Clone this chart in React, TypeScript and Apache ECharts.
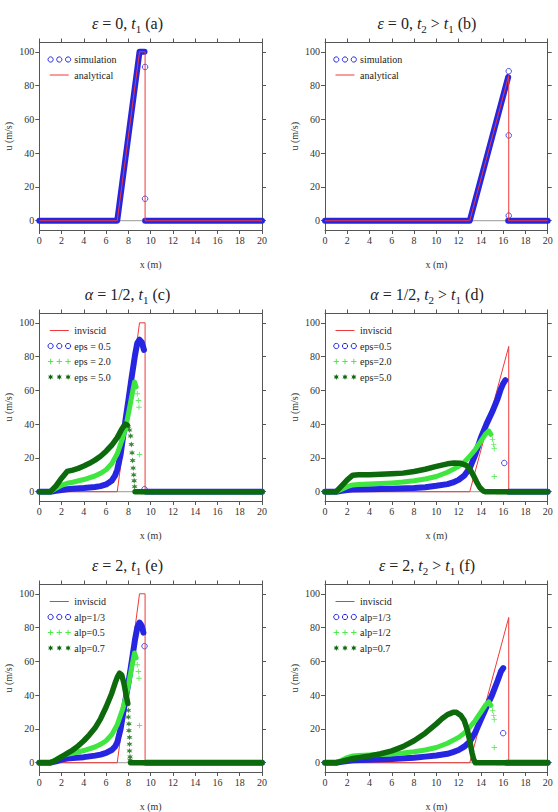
import { useEffect, useRef } from "react";
import * as echarts from "echarts";

type Pt = [number, number | null];

// ---- axes ----
const xTickStep = 2;
const yTickValues = [0, 20, 40, 60, 80, 100];

// ---- exact (inviscid) solutions ----
const exactT1: Pt[] = [[0, 0], [7, 0], [9, 100], [9.5, 100], [9.5, 0], [20, 0]];
const exactT2: Pt[] = [[0, 0], [13, 0], [16.5, 86], [16.5, 0], [20, 0]];
const zeroLine: Pt[] = [[0, 0], [20, 0]];

// ---- ε = 0 simulation ----
const simT1Band: Pt[] = [[0, 0], [7.0, 0], [9.0, 100], [9.45, 100], [9.47, null], [9.5, 0], [20, 0]];
const simT1Marks: Pt[] = [[9.5, 91], [9.5, 13]];
const simT2Band: Pt[] = [[0, 0], [13.0, 0], [16.45, 85], [16.47, null], [16.45, 0], [20, 0]];
const simT2Marks: Pt[] = [[16.5, 88.5], [16.5, 50.5], [16.5, 3]];

// ---- α = 1/2, eps = 0.5 ----
const eps05T1Band: Pt[] = [[0, 0], [1, 0], [1.5, 0.5], [2, 1], [2.5, 1.5], [3, 1.8], [4, 2.2], [5, 2.8], [5.5, 3.3], [6, 4.3], [6.5, 6.5], [6.8, 9.5], [7, 13], [7.3, 22], [7.6, 36], [8, 54], [8.3, 68], [8.6, 81], [8.8, 88], [9.0, 90], [9.2, 88.5], [9.4, 84], [9.42, null], [9.6, 0], [20, 0]];
const eps05T1Marks: Pt[] = [[9.45, 1.5]];
const eps05T2Band: Pt[] = [[0, 0], [1, 0], [1.5, 0.5], [2, 1], [2.5, 1.3], [4, 1.5], [6, 1.8], [8, 2.2], [9, 2.7], [10, 3.5], [11, 4.5], [11.5, 5.5], [12, 7], [12.5, 9.5], [13, 14], [13.5, 22], [14, 32], [14.5, 40], [15, 47], [15.5, 55], [15.8, 61], [16.0, 64], [16.2, 66], [16.22, null], [16.5, 0], [20, 0]];
const eps05T2Marks: Pt[] = [[16.1, 17]];

// ---- eps = 2.0 with α = 1/2 (shared by panels c/e and d/f) ----
const eps2T1Band: Pt[] = [[0, 0], [1, 0], [1.5, 2], [2, 3.8], [2.5, 5], [3, 5.6], [4, 7.2], [5, 9.3], [5.5, 10.9], [6, 13], [6.5, 16.5], [7, 22.5], [7.5, 32], [7.8, 39.5], [8, 46], [8.2, 53], [8.4, 60], [8.55, 65], [8.7, 62], [8.72, null], [9.2, 0], [20, 0]];
const eps2T1Marks: Pt[] = [[8.8, 58], [8.9, 54], [8.95, 50], [9.0, 22]];
const eps2T2Band: Pt[] = [[0, 0], [1, 0], [1.5, 1.5], [2, 3], [2.5, 4], [3, 4.2], [4, 4.5], [5, 4.8], [6, 5.2], [7, 5.7], [8, 6.5], [9, 7.5], [10, 9], [11, 11.5], [12, 15], [12.5, 17.5], [13, 21], [13.5, 25], [14, 30], [14.4, 34], [14.7, 36], [14.9, 34], [14.92, null], [15.4, 0], [20, 0]];
const eps2T2Marks: Pt[] = [[15.05, 31], [15.15, 28], [15.2, 25.5], [15.2, 9]];

// ---- α = 1/2, eps = 5.0 ----
const eps5T1Band: Pt[] = [[0, 0], [1, 0], [1.5, 3.5], [2, 8], [2.5, 12], [3, 12.8], [3.5, 13.8], [4, 15.2], [4.5, 16.8], [5, 18.7], [5.5, 21], [6, 24], [6.5, 27.5], [7, 32], [7.4, 37], [7.7, 40], [7.9, 39.5], [7.92, null], [8.6, 0], [20, 0]];
const eps5T1Marks: Pt[] = [[8.0, 38.5], [8.1, 36.5], [8.2, 33], [8.27, 28], [8.33, 23], [8.38, 18.5], [8.43, 14], [8.48, 10], [8.52, 6.5], [8.56, 3]];
const eps5T2Band: Pt[] = [[0, 0], [1, 0], [1.5, 3.5], [2, 7], [2.5, 9.8], [3, 10], [4, 10.1], [5, 10.3], [6, 10.6], [7, 11], [8, 12], [9, 13.3], [10, 15], [11, 16.5], [11.6, 17], [12.2, 16.8], [12.7, 15.5], [13, 13.5], [13.3, 10], [13.6, 6], [13.9, 2.5], [14.2, 0.5], [14.4, 0], [20, 0]];

// ---- ε = 2, alp = 1/3 ----
const alp13T1Band: Pt[] = [[0, 0], [1, 0], [1.5, 0.8], [2, 1.8], [2.5, 2.5], [3, 2.8], [4, 3.3], [5, 4.2], [5.5, 4.8], [6, 5.8], [6.5, 7.5], [6.8, 9.5], [7, 12], [7.3, 20], [7.6, 32], [8, 47], [8.3, 60], [8.6, 73], [8.8, 80], [9.0, 83], [9.2, 81], [9.35, 77], [9.37, null], [9.6, 0], [20, 0]];
const alp13T1Marks: Pt[] = [[9.45, 69]];
const alp13T2Band: Pt[] = [[0, 0], [1, 0], [1.5, 0.5], [2, 1], [2.5, 1.5], [4, 1.8], [6, 2.2], [8, 3], [9, 3.6], [10, 4.3], [11, 5.3], [11.5, 6.3], [12, 7.5], [12.5, 9.5], [13, 12.5], [13.5, 18], [14, 25.5], [14.5, 33], [15, 40], [15.5, 48.5], [15.8, 54], [16.0, 56], [16.02, null], [16.3, 0], [20, 0]];
const alp13T2Marks: Pt[] = [[16.0, 17.5]];

// ---- ε = 2, alp = 0.7 ----
const alp07T1Band: Pt[] = [[0, 0], [1, 0], [1.5, 1.5], [2, 3.5], [2.5, 5.5], [3, 7.5], [3.5, 10], [4, 13], [4.5, 16.5], [5, 20.5], [5.5, 26], [6, 33], [6.5, 41], [6.8, 47], [7.0, 50.5], [7.2, 53], [7.4, 52], [7.6, 47], [7.8, 40], [7.95, 35], [7.97, null], [8.2, 0], [20, 0]];
const alp07T1Marks: Pt[] = [[8.0, 31], [8.0, 27], [8.05, 23], [8.05, 19], [8.1, 15], [8.1, 11], [8.1, 7], [8.15, 3.5], [8.15, 1.5]];
const alp07T2Band: Pt[] = [[0, 0], [1, 0], [1.5, 0.8], [2, 1.7], [2.5, 2.5], [3, 3], [4, 4], [5, 5.3], [6, 7], [7, 9.5], [8, 13], [9, 17.5], [10, 23], [10.5, 26], [11, 28.5], [11.5, 29.8], [11.8, 29.8], [12.2, 28], [12.5, 25], [12.8, 19], [13.0, 13], [13.2, 6], [13.35, 2], [13.5, 0], [20, 0]];

// ---- panel texts ----
const panelTitles = [
  "{i|ε} = 0, {i|t}{s|1} (a)",
  "{i|ε} = 0, {i|t}{s|2} > {i|t}{s|1} (b)",
  "{i|α} = 1/2, {i|t}{s|1} (c)",
  "{i|α} = 1/2, {i|t}{s|2} > {i|t}{s|1} (d)",
  "{i|ε} = 2, {i|t}{s|1} (e)",
  "{i|ε} = 2, {i|t}{s|2} > {i|t}{s|1} (f)",
];
const legendSimA = ["simulation", "analytical"];
const legendEpsC = ["inviscid", "eps = 0.5", "eps = 2.0", "eps = 5.0"];
const legendEpsD = ["inviscid", "eps=0.5", "eps=2.0", "eps=5.0"];
const legendAlpE = ["inviscid", "alp=1/3", "alp=0.5", "alp=0.7"];
const legendAlpF = ["inviscid", "alp=1/3", "alp=1/2", "alp=0.7"];
const xAxisName = "x (m)";
const yAxisName = "u (m/s)";

// ---- styling ----
const FONT = "Liberation Serif";
const BLUE = "#2626e2";
const LIGHT = "#40e640";
const DARK = "#0c6a0c";
const RED = "#ee3a3a";
const FRAME = "#555555";
const TEXT = "#333333";
const ZERO = "#999999";

const COL_LEFT = [39.3, 325];
const ROW_TOP = [42.5, 313.5, 584.5];
const GRID_W = 222.7;
const GRID_H = 187.5;
const TITLE_X = [127.5, 427];
const TITLE_Y = [23.3, 294, 565];

type Shape = "line" | "circle" | "plus" | "star";

function starPoints(cx: number, cy: number, R: number, r: number): number[][] {
  const pts: number[][] = [];
  for (let k = 0; k < 12; k++) {
    const rad = k % 2 === 0 ? R : r;
    const a = Math.PI / 2 + (k * Math.PI) / 6;
    pts.push([cx + rad * Math.cos(a), cy - rad * Math.sin(a)]);
  }
  return pts;
}
const STAR_PATH =
  "path://" +
  starPoints(10, 10, 10, 4.5)
    .map((p, k) => (k === 0 ? "M" : "L") + p[0].toFixed(2) + "," + p[1].toFixed(2))
    .join("") +
  "Z";
const PLUS_PATH = "path://M4.2,0H5.8V10H4.2ZM0,4.2H10V5.8H0Z";

function bandSeries(g: number, data: Pt[], color: string, width: number) {
  return {
    type: "line",
    xAxisIndex: 2 * g,
    yAxisIndex: 2 * g,
    data,
    symbol: "none",
    showSymbol: false,
    connectNulls: false,
    silent: true,
    lineStyle: { color, width, cap: "round", join: "round" },
    itemStyle: { color },
  };
}
function thinSeries(g: number, data: Pt[], color: string) {
  return {
    type: "line",
    xAxisIndex: 2 * g,
    yAxisIndex: 2 * g,
    data,
    symbol: "none",
    showSymbol: false,
    silent: true,
    lineStyle: { color, width: 1 },
    itemStyle: { color },
  };
}
function markSeries(g: number, data: Pt[], shape: Shape) {
  const base: any = {
    type: "scatter",
    xAxisIndex: 2 * g,
    yAxisIndex: 2 * g,
    data,
    silent: true,
  };
  if (shape === "circle") {
    base.symbol = "circle";
    base.symbolSize = 5.5;
    base.itemStyle = { color: "rgba(0,0,0,0)", borderColor: BLUE, borderWidth: 1 };
  } else if (shape === "plus") {
    base.symbol = PLUS_PATH;
    base.symbolSize = 5.5;
    base.itemStyle = { color: LIGHT };
  } else {
    base.symbol = STAR_PATH;
    base.symbolSize = 6;
    base.itemStyle = { color: DARK };
  }
  return base;
}

function legendGraphics(g: number, labels: string[], shapes: Shape[], colors: string[]) {
  const left = COL_LEFT[g % 2];
  const top = ROW_TOP[Math.floor(g / 2)];
  const out: any[] = [];
  labels.forEach((label, i) => {
    const y = top + 17 + i * 15.5;
    const shape = shapes[i];
    const color = colors[i];
    const xs = [left + 11.3, left + 20, left + 28.8];
    if (shape === "line") {
      out.push({
        type: "line",
        silent: true,
        shape: { x1: left + 10.5, y1: y, x2: left + 29.5, y2: y },
        style: { stroke: color, lineWidth: 1 },
      });
    } else {
      xs.forEach((x) => {
        if (shape === "circle") {
          out.push({
            type: "circle",
            silent: true,
            shape: { cx: x, cy: y, r: 2.6 },
            style: { fill: "none", stroke: color, lineWidth: 1 },
          });
        } else if (shape === "plus") {
          out.push({
            type: "line",
            silent: true,
            shape: { x1: x - 2.7, y1: y, x2: x + 2.7, y2: y },
            style: { stroke: color, lineWidth: 0.9 },
          });
          out.push({
            type: "line",
            silent: true,
            shape: { x1: x, y1: y - 2.7, x2: x, y2: y + 2.7 },
            style: { stroke: color, lineWidth: 0.9 },
          });
        } else {
          out.push({
            type: "polygon",
            silent: true,
            shape: { points: starPoints(x, y, 3, 1.4) },
            style: { fill: color },
          });
        }
      });
    }
    out.push({
      type: "text",
      silent: true,
      x: left + 35,
      y,
      style: {
        text: label,
        fontSize: 10,
        fontFamily: FONT,
        fill: "#222",
        verticalAlign: "middle",
        align: "left",
      },
    });
  });
  return out;
}

function titleGraphic(g: number) {
  return {
    type: "text",
    silent: true,
    x: TITLE_X[g % 2],
    y: TITLE_Y[Math.floor(g / 2)],
    style: {
      text: panelTitles[g],
      fontSize: 16,
      lineHeight: 22,
      fontFamily: FONT,
      fill: "#222",
      align: "center",
      verticalAlign: "middle",
      rich: {
        i: { fontSize: 16, lineHeight: 22, fontStyle: "italic", fontFamily: FONT, fill: "#222" },
        s: { fontSize: 11, lineHeight: 14, verticalAlign: "bottom", fontFamily: FONT, fill: "#222" },
      },
    },
  };
}

function buildOption() {
  const grid: any[] = [];
  const xAxis: any[] = [];
  const yAxis: any[] = [];
  for (let g = 0; g < 6; g++) {
    grid.push({
      left: COL_LEFT[g % 2],
      top: ROW_TOP[Math.floor(g / 2)],
      width: GRID_W,
      height: GRID_H,
      containLabel: false,
    });
    const line = { show: true, onZero: false, lineStyle: { color: FRAME, width: 1 } };
    const tick = { show: true, inside: false, length: 4, lineStyle: { color: FRAME, width: 1 } };
    const label = { fontSize: 10, fontFamily: FONT, color: TEXT };
    xAxis.push({
      gridIndex: g,
      type: "value",
      position: "bottom",
      min: 0,
      max: 20,
      interval: xTickStep,
      axisLine: line,
      axisTick: tick,
      axisLabel: { ...label, margin: 5 },
      splitLine: { show: false },
      name: xAxisName,
      nameLocation: "middle",
      nameGap: 29,
      nameTextStyle: { fontSize: 10, fontFamily: FONT, color: TEXT },
    });
    xAxis.push({
      gridIndex: g,
      type: "value",
      position: "top",
      min: 0,
      max: 20,
      interval: xTickStep,
      axisLine: line,
      axisTick: tick,
      axisLabel: { show: false },
      splitLine: { show: false },
    });
    yAxis.push({
      gridIndex: g,
      type: "value",
      position: "left",
      min: -5.5,
      max: 105.5,
      axisLine: line,
      axisTick: { ...tick, customValues: yTickValues },
      axisLabel: { ...label, margin: 5, customValues: yTickValues },
      splitLine: { show: false },
      name: yAxisName,
      nameLocation: "middle",
      nameGap: 26,
      nameTextStyle: { fontSize: 10, fontFamily: FONT, color: TEXT },
    });
    yAxis.push({
      gridIndex: g,
      type: "value",
      position: "right",
      min: -5.5,
      max: 105.5,
      axisLine: line,
      axisTick: { ...tick, customValues: yTickValues },
      axisLabel: { show: false, customValues: yTickValues },
      splitLine: { show: false },
    });
  }

  const series: any[] = [];
  for (let g = 0; g < 6; g++) series.push(thinSeries(g, zeroLine, ZERO));

  // (a)
  series.push(bandSeries(0, simT1Band, BLUE, 6), markSeries(0, simT1Marks, "circle"), thinSeries(0, exactT1, RED));
  // (b)
  series.push(bandSeries(1, simT2Band, BLUE, 6), markSeries(1, simT2Marks, "circle"), thinSeries(1, exactT2, RED));
  // (c)
  series.push(
    thinSeries(2, exactT1, RED),
    bandSeries(2, eps05T1Band, BLUE, 6),
    markSeries(2, eps05T1Marks, "circle"),
    bandSeries(2, eps2T1Band, LIGHT, 5),
    markSeries(2, eps2T1Marks, "plus"),
    bandSeries(2, eps5T1Band, DARK, 5.5),
    markSeries(2, eps5T1Marks, "star"),
  );
  // (d)
  series.push(
    thinSeries(3, exactT2, RED),
    bandSeries(3, eps05T2Band, BLUE, 6),
    markSeries(3, eps05T2Marks, "circle"),
    bandSeries(3, eps2T2Band, LIGHT, 5),
    markSeries(3, eps2T2Marks, "plus"),
    bandSeries(3, eps5T2Band, DARK, 5.5),
  );
  // (e)
  series.push(
    thinSeries(4, exactT1, RED),
    bandSeries(4, alp13T1Band, BLUE, 6),
    markSeries(4, alp13T1Marks, "circle"),
    bandSeries(4, eps2T1Band, LIGHT, 5),
    markSeries(4, eps2T1Marks, "plus"),
    bandSeries(4, alp07T1Band, DARK, 5.5),
    markSeries(4, alp07T1Marks, "star"),
  );
  // (f)
  series.push(
    thinSeries(5, exactT2, RED),
    bandSeries(5, alp13T2Band, BLUE, 6),
    markSeries(5, alp13T2Marks, "circle"),
    bandSeries(5, eps2T2Band, LIGHT, 5),
    markSeries(5, eps2T2Marks, "plus"),
    bandSeries(5, alp07T2Band, DARK, 5.5),
  );

  const graphic: any[] = [];
  for (let g = 0; g < 6; g++) graphic.push(titleGraphic(g));
  graphic.push(...legendGraphics(0, legendSimA, ["circle", "line"], [BLUE, RED]));
  graphic.push(...legendGraphics(1, legendSimA, ["circle", "line"], [BLUE, RED]));
  const four: Shape[] = ["line", "circle", "plus", "star"];
  const fourColors = [RED, BLUE, LIGHT, DARK];
  graphic.push(...legendGraphics(2, legendEpsC, four, fourColors));
  graphic.push(...legendGraphics(3, legendEpsD, four, fourColors));
  graphic.push(...legendGraphics(4, legendAlpE, four, fourColors));
  graphic.push(...legendGraphics(5, legendAlpF, four, fourColors));

  return {
    animation: false,
    backgroundColor: "#ffffff",
    textStyle: { fontFamily: FONT },
    grid,
    xAxis,
    yAxis,
    series,
    graphic,
  };
}

export default function App() {
  const ref = useRef<HTMLDivElement | null>(null);
  useEffect(() => {
    if (!ref.current) return;
    const chart = echarts.init(ref.current, undefined, { renderer: "svg" });
    chart.setOption(buildOption() as any);
    return () => chart.dispose();
  }, []);
  return (
    <div
      ref={ref}
      style={{ position: "absolute", left: 0, top: 0, width: 558, height: 812, background: "#fff" }}
    />
  );
}
